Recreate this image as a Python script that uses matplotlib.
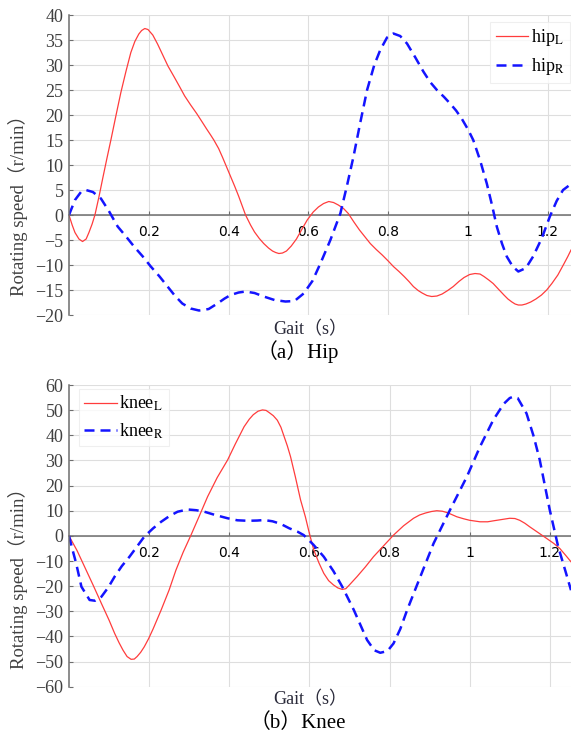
import numpy as np
import matplotlib.pyplot as plt

plt.rcParams['mathtext.fontset'] = 'stix'

# Hip joint angular speed over one gait cycle
hip_l_t = [0.0, 0.008, 0.015, 0.025, 0.034, 0.043, 0.05, 0.058, 0.065, 0.075, 0.085,
           0.095, 0.105, 0.118, 0.13, 0.143, 0.155, 0.165, 0.175, 0.182, 0.19, 0.198,
           0.21, 0.222, 0.235, 0.248, 0.263, 0.277, 0.29, 0.305, 0.32, 0.333, 0.345,
           0.355, 0.363, 0.375, 0.385, 0.395, 0.405, 0.415, 0.425, 0.4425, 0.455, 0.465,
           0.477, 0.488, 0.5, 0.51, 0.518, 0.526, 0.535, 0.545, 0.557, 0.57, 0.584,
           0.597, 0.612, 0.625, 0.638, 0.651, 0.663, 0.675, 0.688, 0.70, 0.714, 0.728,
           0.742, 0.755, 0.77, 0.785, 0.8, 0.813, 0.827, 0.84, 0.852, 0.863, 0.875,
           0.885, 0.897, 0.909, 0.922, 0.935, 0.949, 0.963, 0.977, 0.99, 1.004, 1.0175,
           1.03, 1.04, 1.052, 1.063, 1.077, 1.09, 1.1, 1.11, 1.118, 1.126, 1.135,
           1.145, 1.157, 1.17, 1.184, 1.197, 1.21, 1.225, 1.24, 1.25, 1.258]
hip_l_v = [0.0, -2.0, -3.5, -4.8, -5.3, -4.8, -3.5, -1.8, 0.0, 3.6, 7.5,
           11.3, 15.0, 20.0, 24.5, 28.8, 32.5, 34.7, 36.2, 36.9, 37.3, 37.1,
           36.0, 34.2, 32.0, 29.8, 27.7, 25.7, 23.8, 22.0, 20.3, 18.7, 17.2,
           16.0, 15.0, 13.3, 11.5, 9.6, 7.7, 5.8, 3.8, 0.0, -2.0, -3.4,
           -4.7, -5.7, -6.6, -7.2, -7.5, -7.7, -7.6, -7.2, -6.2, -4.8, -2.8,
           -1.0, 0.6, 1.6, 2.3, 2.7, 2.5, 2.0, 1.3, 0.3, -1.4, -3.0,
           -4.4, -5.7, -6.9, -8.0, -9.2, -10.3, -11.3, -12.3, -13.3, -14.3, -15.1,
           -15.6, -16.1, -16.3, -16.2, -15.8, -15.1, -14.3, -13.3, -12.5, -11.9, -11.7,
           -11.8, -12.3, -13.0, -13.7, -14.9, -16.0, -16.8, -17.4, -17.8, -18.0, -18.0,
           -17.8, -17.4, -16.8, -16.0, -15.0, -13.7, -12.0, -9.8, -8.3, -7.0]

hip_r_t = [0.0, 0.015, 0.03, 0.0425, 0.06, 0.08, 0.1, 0.122, 0.143, 0.163, 0.185,
           0.205, 0.227, 0.247, 0.265, 0.284, 0.305, 0.326, 0.35, 0.372, 0.39, 0.405,
           0.425, 0.4425, 0.465, 0.488, 0.515, 0.5425, 0.565, 0.588, 0.61, 0.63, 0.655,
           0.68, 0.697, 0.713, 0.73, 0.747, 0.765, 0.78, 0.797, 0.813, 0.83, 0.847,
           0.868, 0.888, 0.905, 0.922, 0.94, 0.955, 0.97, 0.984, 1.0, 1.013, 1.03,
           1.047, 1.06, 1.072, 1.085, 1.097, 1.112, 1.126, 1.145, 1.163, 1.185, 1.205,
           1.222, 1.238, 1.258]
hip_r_v = [0.0, 3.0, 4.6, 5.0, 4.6, 3.3, 0.8, -2.3, -4.3, -6.3, -8.3,
           -10.3, -12.3, -14.3, -16.1, -17.7, -18.7, -19.1, -18.8, -17.7, -16.7, -16.0,
           -15.5, -15.3, -15.6, -16.3, -17.0, -17.3, -17.2, -15.7, -13.2, -9.7, -5.0,
           0.3, 6.0, 11.7, 18.5, 25.0, 30.0, 33.0, 35.5, 36.3, 35.8, 34.3,
           31.5, 28.7, 26.6, 25.0, 23.6, 22.3, 20.9, 19.3, 17.1, 15.0, 11.0,
           6.3, 2.0, -2.3, -5.7, -8.3, -10.3, -11.3, -10.6, -8.3, -4.6, -0.3,
           2.8, 5.0, 6.2]

# Knee joint angular speed over one gait cycle
knee_l_t = [0.0, 0.02, 0.039, 0.06, 0.081, 0.1, 0.114, 0.125, 0.135, 0.145, 0.155,
            0.163, 0.17, 0.179, 0.188, 0.199, 0.21, 0.23, 0.25, 0.267, 0.285, 0.3045,
            0.325, 0.346, 0.37, 0.396, 0.415, 0.437, 0.45, 0.46, 0.472, 0.483, 0.492,
            0.5, 0.51, 0.52, 0.529, 0.537, 0.545, 0.553, 0.565, 0.578, 0.59, 0.6,
            0.611, 0.624, 0.636, 0.648, 0.66, 0.671, 0.682, 0.691, 0.7, 0.719, 0.74,
            0.76, 0.785, 0.81, 0.835, 0.86, 0.875, 0.89, 0.905, 0.918, 0.932, 0.945,
            0.968, 0.985, 1.0, 1.026, 1.045, 1.06, 1.08, 1.1, 1.113, 1.125, 1.138,
            1.15, 1.172, 1.192, 1.21, 1.225, 1.24, 1.253]
knee_l_v = [0.0, -5.8, -12.3, -19.5, -26.9, -33.5, -38.8, -42.5, -45.5, -48.0, -49.1,
            -49.0, -48.0, -46.3, -44.1, -40.8, -37.0, -29.5, -21.5, -13.6, -6.5, 0.3,
            7.8, 15.6, 23.2, 30.2, 36.5, 43.4, 46.4, 48.2, 49.6, 50.1, 49.9,
            49.0, 47.8, 46.0, 43.2, 39.5, 35.8, 31.5, 23.5, 14.3, 7.6, 1.0,
            -5.6, -10.8, -14.9, -17.8, -19.5, -20.7, -21.3, -21.0, -19.5, -16.2, -12.3,
            -8.3, -4.0, 0.3, 4.0, 7.0, 8.3, 9.1, 9.7, 10.0, 9.8, 9.2,
            7.6, 6.8, 6.2, 5.6, 5.6, 6.0, 6.5, 7.0, 6.9, 6.2, 5.0,
            3.6, 1.2, -1.0, -3.0, -5.0, -7.8, -10.3]

knee_r_t = [0.0, 0.008, 0.018, 0.031, 0.0515, 0.065, 0.081, 0.098, 0.114, 0.132, 0.151,
            0.17, 0.188, 0.21, 0.23, 0.25, 0.271, 0.296, 0.318, 0.338, 0.365, 0.396,
            0.42, 0.446, 0.47, 0.487, 0.508, 0.528, 0.55, 0.57, 0.586, 0.61, 0.636,
            0.66, 0.682, 0.711, 0.744, 0.762, 0.777, 0.795, 0.81, 0.827, 0.844, 0.877,
            0.91, 0.951, 0.993, 1.026, 1.059, 1.085, 1.1, 1.109, 1.12, 1.142, 1.16,
            1.175, 1.2, 1.221, 1.24, 1.253]
knee_r_v = [0.0, -5.0, -11.0, -20.2, -25.5, -25.8, -24.2, -20.5, -16.2, -12.0, -8.3,
            -4.2, -0.3, 3.0, 5.6, 7.8, 9.6, 10.5, 10.2, 9.6, 8.3, 7.0,
            6.2, 6.0, 6.1, 6.3, 5.8, 4.8, 3.0, 1.7, 0.3, -3.5, -8.3,
            -14.0, -20.2, -29.5, -41.4, -45.5, -46.5, -45.8, -42.8, -37.0, -29.5, -16.2,
            -3.0, 10.3, 23.5, 35.5, 46.1, 52.5, 54.8, 55.4, 54.8, 48.7, 39.5,
            30.2, 10.3, -4.3, -14.5, -21.6]

x_ticks = [0.2, 0.4, 0.6, 0.8, 1.0, 1.2]
x_tick_labels = ['0.2', '0.4', '0.6', '0.8', '1', '1.2']

red = '#ff3c3c'
blue = '#1414ff'
axis_grey = '#6e6e6e'
text_grey = '#404040'
serif_cjk = ['Liberation Serif', 'Noto Sans CJK SC']

fig = plt.figure(figsize=(5.71, 7.40), dpi=100)
ax1 = fig.add_axes([0.1208, 0.5743, 0.8792, 0.4054])
ax2 = fig.add_axes([0.1208, 0.0720, 0.8792, 0.4077])


def style_axes(ax, xmax, ylim, yticks):
    ax.set_xlim(0, xmax)
    ax.set_ylim(*ylim)
    ax.set_yticks(yticks)
    ax.set_xticks(x_ticks)
    ax.set_xticklabels(x_tick_labels, family='Liberation Serif', fontsize=13.5,
                       color=text_grey)
    for lab in ax.get_yticklabels():
        lab.set_family('Liberation Serif')
        lab.set_fontsize(13)
        lab.set_color(text_grey)
    ax.grid(True, color='#dedede', linewidth=0.8)
    ax.set_axisbelow(True)
    ax.spines['top'].set_visible(False)
    ax.spines['right'].set_visible(False)
    ax.spines['bottom'].set_position(('data', 0))
    ax.spines['bottom'].set_color(axis_grey)
    ax.spines['left'].set_color(axis_grey)
    ax.spines['bottom'].set_linewidth(1.1)
    ax.spines['left'].set_linewidth(1.1)
    ax.spines['bottom'].set_zorder(1)
    ax.tick_params(axis='x', direction='in', length=3, pad=7, color=axis_grey)
    ax.tick_params(axis='y', direction='in', length=3, pad=4, color=axis_grey)


# Hip panel
ax1.plot(hip_l_t, hip_l_v, color=red, lw=0.9, label='hip$_\\mathrm{L}$')
ax1.plot(hip_r_t, hip_r_v, color=blue, lw=1.8, dashes=(4, 2.4), label='hip$_\\mathrm{R}$')
style_axes(ax1, 1.258, (-20, 40), np.arange(-20, 41, 5))
leg1 = ax1.legend(loc='upper right', bbox_to_anchor=(1.005, 0.99),
                  prop={'family': 'Liberation Serif', 'size': 13}, fancybox=False,
                  handlelength=1.8, handletextpad=0.15, borderpad=0.3,
                  labelspacing=0.45, borderaxespad=0.2)
leg1.get_frame().set_edgecolor('#ececec')
leg1.get_frame().set_linewidth(0.8)

# Knee panel
ax2.plot(knee_l_t, knee_l_v, color=red, lw=0.9, label='knee$_\\mathrm{L}$')
ax2.plot(knee_r_t, knee_r_v, color=blue, lw=1.8, dashes=(4, 2.4), label='knee$_\\mathrm{R}$')
style_axes(ax2, 1.253, (-60, 60), np.arange(-60, 61, 10))
leg2 = ax2.legend(loc='upper left', bbox_to_anchor=(0.012, 1.0),
                  prop={'family': 'Liberation Serif', 'size': 13}, fancybox=False,
                  handlelength=1.8, handletextpad=0.15, borderpad=0.3,
                  labelspacing=0.45, borderaxespad=0.2)
leg2.get_frame().set_edgecolor('#ececec')
leg2.get_frame().set_linewidth(0.8)

# Axis titles and panel captions (pixel positions converted to figure fractions)
W, H = 571.0, 740.0
for y_lab, y_x, y_cap, cap in [(201, 330, 352, '（a）Hip'), (574, 700, 723, '（b）Knee')]:
    fig.text(18 / W, 1 - y_lab / H, 'Rotating speed（r/min）', rotation=90,
             ha='center', va='center', fontsize=13.5, color=text_grey,
             family=serif_cjk)
    fig.text(310 / W, 1 - y_x / H, 'Gait（s）', ha='center', va='center',
             fontsize=13, color='#2a2a3a', family=serif_cjk)
    fig.text(298 / W, 1 - y_cap / H, cap, ha='center', va='center',
             fontsize=15, color='black', family=serif_cjk)

fig.savefig('out.png', dpi=100)
